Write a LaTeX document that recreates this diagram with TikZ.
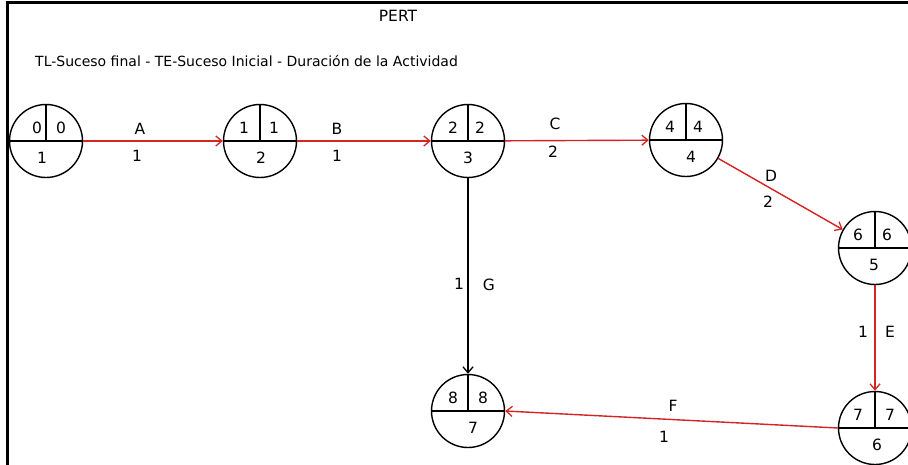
\documentclass[tikz,border=0pt]{standalone}
\usepackage{fontspec}
\setmainfont{DejaVu Sans}
\usetikzlibrary{arrows.meta,calc}
\definecolor{critred}{RGB}{212,36,36}
\tikzset{
  event/.style={circle, draw, line width=1.4pt, minimum size=73pt, inner sep=0pt},
  lbl/.style={font=\fontsize{15.5}{15.5}\selectfont, inner sep=0pt, anchor=center},
  legendtext/.style={font=\fontsize{14}{14}\selectfont, inner sep=0pt, anchor=west},
  crit/.style={draw=critred, line width=1.4pt, -{Straight Barb[length=6pt,width=10pt,line width=1.3pt]}},
  plain/.style={draw=black, line width=1.3pt, -{Straight Barb[length=6pt,width=10pt,line width=1.3pt]}},
}
\newcommand{\eventnode}[9]{%
  % #1 name, #2 x, #3 y, #4 left, #5 right, #6 bottom, #7 dx left, #8 dx right, #9 dx bottom
  \node[event] (#1) at (#2,#3) {};
  \draw[line width=1.4pt] (#1.west) -- (#1.east);
  \draw[line width=1.4pt] (#1.north) -- (#1.center);
  \node[lbl] (#1l) at ($(#1.center)+(#7,-13)$) {#4};
  \node[lbl] (#1r) at ($(#1.center)+(#8,-13)$) {#5};
  \node[lbl] (#1b) at ($(#1.center)+(#9,17)$) {#6};
}
\begin{document}
\begin{tikzpicture}[x=1pt,y=-1pt]
\useasboundingbox (0,0) rectangle (908,465);
\fill[white] (0,0) rectangle (908,465);
\draw[line width=3pt] (908,3) -- (7,3) -- (7,465);
\node[lbl] (title) at (398,16) {PERT};
\node[legendtext] (legend) at (35,61) {TL-Suceso final - TE-Suceso Inicial - Duración de la Actividad};

\eventnode{n1}{46}{141}{0}{0}{1}{-9}{15}{-4}
\eventnode{n2}{260}{141}{1}{1}{2}{-16}{14}{1}
\eventnode{n3}{468}{141}{2}{2}{3}{-15}{12}{0}
\eventnode{n4}{686}{140}{4}{4}{4}{-16}{12}{5}
\eventnode{n5}{875}{248}{6}{6}{5}{-17}{12}{-1}
\eventnode{n6}{875}{428}{7}{7}{6}{-17}{15}{2}
\eventnode{n7}{468}{411}{8}{8}{7}{-15}{15}{5}

\path[crit] (n1) -- (n2);
\path[crit] (n2) -- (n3);
\path[crit] (n3) -- (n4);
\path[crit] (n4) -- (n5);
\path[crit] (n5) -- (n6);
\path[crit] (n6.west) -- (n7.east);
\path[plain] (n3) -- (n7);

\node[lbl] (la) at (140,129) {A};
\node[lbl] (la1) at (137,156) {1};
\node[lbl] (lb) at (337,129) {B};
\node[lbl] (lb1) at (337,156) {1};
\node[lbl] (lc) at (555,124) {C};
\node[lbl] (lc1) at (553,152) {2};
\node[lbl] (ld) at (771,176) {D};
\node[lbl] (ld1) at (768,202) {2};
\node[lbl] (le1) at (863,332) {1};
\node[lbl] (le) at (890,332) {E};
\node[lbl] (lf) at (673,406) {F};
\node[lbl] (lf1) at (664,437) {1};
\node[lbl] (lg1) at (459,284) {1};
\node[lbl] (lg) at (489,285) {G};
\end{tikzpicture}
\end{document}
